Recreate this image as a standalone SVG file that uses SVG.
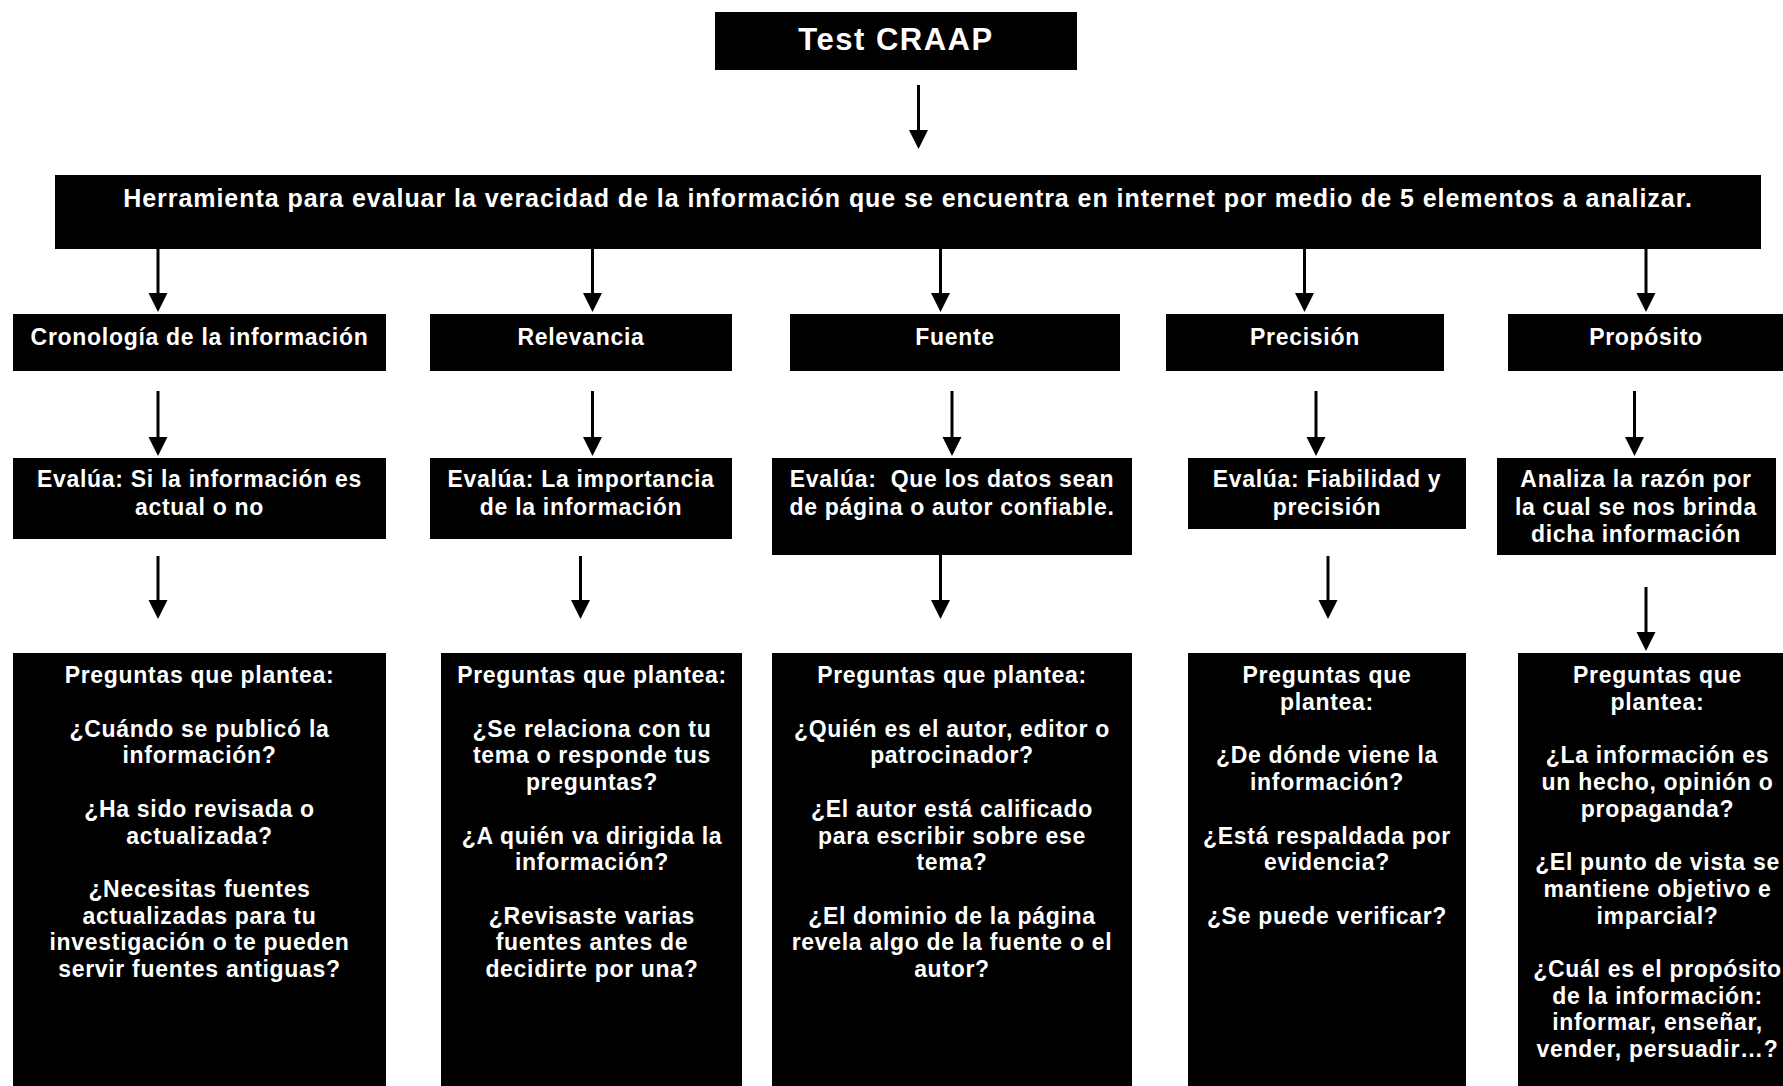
<svg xmlns="http://www.w3.org/2000/svg" width="1783" height="1086" viewBox="0 0 1783 1086">
<style>
.box{fill:#000;}
.t{font-family:"Liberation Sans",Arial,Helvetica,sans-serif;font-weight:bold;font-size:23px;letter-spacing:0.7px;fill:#fff;text-anchor:middle;white-space:pre;}
.title{font-size:31px;letter-spacing:1.5px;}
.wide{font-size:25px;letter-spacing:0.95px;}
.arrow{stroke:#000;stroke-width:3;fill:none;marker-end:url(#ah);}
</style>
<defs>
<marker id="ah" markerUnits="userSpaceOnUse" viewBox="0 -10 20 20" refX="1" refY="0" markerWidth="20" markerHeight="20" orient="auto">
<path d="M0,-9.5 L19,0 L0,9.5 Z" fill="#000"/>
</marker>
</defs>
<rect width="1783" height="1086" fill="#fff"/>

<g id="title">
<rect class="box" x="715" y="12" width="362" height="58"/>
<text class="t title" x="896" y="50">Test CRAAP</text>
</g>

<g id="herramienta">
<rect class="box" x="55" y="175" width="1706" height="74"/>
<text class="t wide" x="908" y="206.5">Herramienta para evaluar la veracidad de la información que se encuentra en internet por medio de 5 elementos a analizar.</text>
</g>

<g id="cat-cronologia">
<rect class="box" x="13" y="314" width="373" height="57"/>
<text class="t" x="199.5" y="345">Cronología de la información</text>
</g>
<g id="cat-relevancia">
<rect class="box" x="430" y="314" width="302" height="57"/>
<text class="t" x="581" y="345">Relevancia</text>
</g>
<g id="cat-fuente">
<rect class="box" x="790" y="314" width="330" height="57"/>
<text class="t" x="955" y="345">Fuente</text>
</g>
<g id="cat-precision">
<rect class="box" x="1166" y="314" width="278" height="57"/>
<text class="t" x="1305" y="345">Precisión</text>
</g>
<g id="cat-proposito">
<rect class="box" x="1508" y="314" width="280" height="57"/>
<text class="t" x="1646" y="345">Propósito</text>
</g>

<g id="eval-cronologia">
<rect class="box" x="13" y="458" width="373" height="81"/>
<text class="t" x="199.5" y="487">Evalúa: Si la información es<tspan x="199.5" y="515">actual o no</tspan></text>
</g>
<g id="eval-relevancia">
<rect class="box" x="430" y="458" width="302" height="81"/>
<text class="t" x="581" y="487">Evalúa: La importancia<tspan x="581" y="515">de la información</tspan></text>
</g>
<g id="eval-fuente">
<rect class="box" x="772" y="458" width="360" height="97"/>
<text class="t" x="952" y="487">Evalúa:  Que los datos sean<tspan x="952" y="515">de página o autor confiable.</tspan></text>
</g>
<g id="eval-precision">
<rect class="box" x="1188" y="458" width="278" height="71"/>
<text class="t" x="1327" y="487">Evalúa: Fiabilidad y<tspan x="1327" y="515">precisión</tspan></text>
</g>
<g id="eval-proposito">
<rect class="box" x="1497" y="458" width="279" height="97"/>
<text class="t" x="1636" y="487">Analiza la razón por<tspan x="1636" y="515">la cual se nos brinda</tspan><tspan x="1636" y="542">dicha información</tspan></text>
</g>

<g id="preg-cronologia">
<rect class="box" x="13" y="653" width="373" height="440"/>
<text class="t" x="199.5" y="683.3">Preguntas que plantea:<tspan x="199.5" y="736.7">¿Cuándo se publicó la</tspan><tspan x="199.5" y="763.4">información?</tspan><tspan x="199.5" y="816.8">¿Ha sido revisada o</tspan><tspan x="199.5" y="843.5">actualizada?</tspan><tspan x="199.5" y="896.9">¿Necesitas fuentes</tspan><tspan x="199.5" y="923.6">actualizadas para tu</tspan><tspan x="199.5" y="950.3">investigación o te pueden</tspan><tspan x="199.5" y="977">servir fuentes antiguas?</tspan></text>
</g>
<g id="preg-relevancia">
<rect class="box" x="441" y="653" width="301" height="440"/>
<text class="t" x="592" y="683.3">Preguntas que plantea:<tspan x="592" y="736.7">¿Se relaciona con tu</tspan><tspan x="592" y="763.4">tema o responde tus</tspan><tspan x="592" y="790.1">preguntas?</tspan><tspan x="592" y="843.5">¿A quién va dirigida la</tspan><tspan x="592" y="870.2">información?</tspan><tspan x="592" y="923.6">¿Revisaste varias</tspan><tspan x="592" y="950.3">fuentes antes de</tspan><tspan x="592" y="977">decidirte por una?</tspan></text>
</g>
<g id="preg-fuente">
<rect class="box" x="772" y="653" width="360" height="440"/>
<text class="t" x="952" y="683.3">Preguntas que plantea:<tspan x="952" y="736.7">¿Quién es el autor, editor o</tspan><tspan x="952" y="763.4">patrocinador?</tspan><tspan x="952" y="816.8">¿El autor está calificado</tspan><tspan x="952" y="843.5">para escribir sobre ese</tspan><tspan x="952" y="870.2">tema?</tspan><tspan x="952" y="923.6">¿El dominio de la página</tspan><tspan x="952" y="950.3">revela algo de la fuente o el</tspan><tspan x="952" y="977">autor?</tspan></text>
</g>
<g id="preg-precision">
<rect class="box" x="1188" y="653" width="278" height="440"/>
<text class="t" x="1327" y="683.3">Preguntas que<tspan x="1327" y="710">plantea:</tspan><tspan x="1327" y="763.4">¿De dónde viene la</tspan><tspan x="1327" y="790.1">información?</tspan><tspan x="1327" y="843.5">¿Está respaldada por</tspan><tspan x="1327" y="870.2">evidencia?</tspan><tspan x="1327" y="923.6">¿Se puede verificar?</tspan></text>
</g>
<g id="preg-proposito">
<rect class="box" x="1518" y="653" width="280" height="440"/>
<text class="t" x="1657.5" y="683.3">Preguntas que<tspan x="1657.5" y="710">plantea:</tspan><tspan x="1657.5" y="763.4">¿La información es</tspan><tspan x="1657.5" y="790.1">un hecho, opinión o</tspan><tspan x="1657.5" y="816.8">propaganda?</tspan><tspan x="1657.5" y="870.2">¿El punto de vista se</tspan><tspan x="1657.5" y="896.9">mantiene objetivo e</tspan><tspan x="1657.5" y="923.6">imparcial?</tspan><tspan x="1657.5" y="977">¿Cuál es el propósito</tspan><tspan x="1657.5" y="1003.7">de la información:</tspan><tspan x="1657.5" y="1030.4">informar, enseñar,</tspan><tspan x="1657.5" y="1057.1">vender, persuadir…?</tspan></text>
</g>

<g id="connectors">
<line class="arrow" x1="918.5" y1="85" x2="918.5" y2="131"/>
<line class="arrow" x1="158" y1="249" x2="158" y2="294"/>
<line class="arrow" x1="592.5" y1="249" x2="592.5" y2="294"/>
<line class="arrow" x1="940.5" y1="249" x2="940.5" y2="294"/>
<line class="arrow" x1="1304.5" y1="249" x2="1304.5" y2="294"/>
<line class="arrow" x1="1646" y1="249" x2="1646" y2="294"/>
<line class="arrow" x1="158" y1="391" x2="158" y2="438"/>
<line class="arrow" x1="592.5" y1="391" x2="592.5" y2="438"/>
<line class="arrow" x1="952" y1="391" x2="952" y2="438"/>
<line class="arrow" x1="1316" y1="391" x2="1316" y2="438"/>
<line class="arrow" x1="1634.5" y1="391" x2="1634.5" y2="438"/>
<line class="arrow" x1="158" y1="556" x2="158" y2="601"/>
<line class="arrow" x1="580.5" y1="556" x2="580.5" y2="601"/>
<line class="arrow" x1="940.5" y1="555" x2="940.5" y2="601"/>
<line class="arrow" x1="1328" y1="556" x2="1328" y2="601"/>
<line class="arrow" x1="1646" y1="587" x2="1646" y2="633"/>
</g>
</svg>
